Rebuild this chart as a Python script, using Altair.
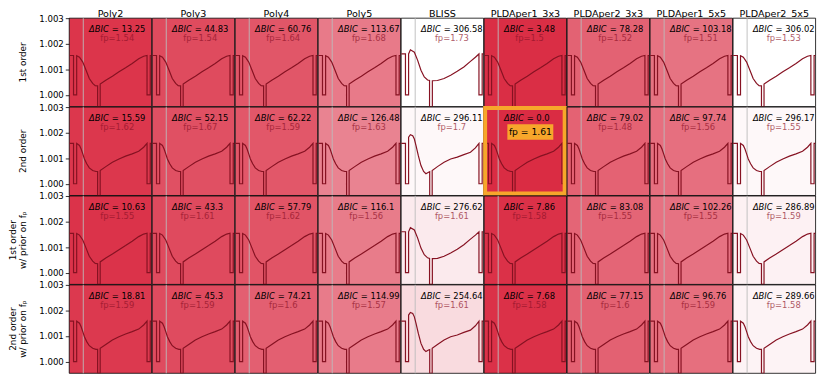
import altair as alt
import pandas as pd

models = ["Poly2", "Poly3", "Poly4", "Poly5", "BLISS",
          "PLDAper1_3x3", "PLDAper2_3x3", "PLDAper1_5x5", "PLDAper2_5x5"]
fits = ["1st order", "2nd order",
        "1st order|w/ prior on fₚ", "2nd order|w/ prior on fₚ"]

dbic_1st = [13.25, 44.83, 60.76, 113.67, 306.58, 3.48, 78.28, 103.18, 306.02]
dbic_2nd = [15.59, 52.15, 62.22, 126.48, 296.11, 0.0, 79.02, 97.74, 296.17]
dbic_1st_prior = [10.63, 43.3, 57.79, 116.1, 276.62, 7.86, 83.08, 102.26, 286.89]
dbic_2nd_prior = [18.81, 45.3, 74.21, 114.99, 254.64, 7.68, 77.15, 96.76, 289.66]

fp_1st = [1.54, 1.54, 1.64, 1.68, 1.73, 1.5, 1.52, 1.51, 1.53]
fp_2nd = [1.62, 1.67, 1.59, 1.63, 1.7, 1.61, 1.48, 1.56, 1.55]
fp_1st_prior = [1.55, 1.61, 1.62, 1.56, 1.61, 1.58, 1.55, 1.55, 1.59]
fp_2nd_prior = [1.59, 1.59, 1.6, 1.57, 1.61, 1.58, 1.6, 1.59, 1.58]

best_fit, best_model = "2nd order", "PLDAper1_3x3"

# phase curve shapes (fraction of panel width, normalised flux)
phase_1st = [0.000, 0.052, 0.052, 0.090, 0.090, 0.124, 0.164, 0.204, 0.243, 0.284, 0.315,
             0.344, 0.344, 0.375, 0.375, 0.443, 0.523, 0.603, 0.683, 0.763, 0.842, 0.902,
             0.943, 0.943, 0.982, 0.982, 1.000]
flux_1st = [1.00154, 1.00154, 1.00000, 1.00000, 1.00153, 1.00147, 1.00128, 1.00096, 1.00064,
            1.00045, 1.00036, 1.00035, 0.99954, 0.99954, 1.00042, 1.00057, 1.00073, 1.00090,
            1.00106, 1.00123, 1.00141, 1.00151, 1.00154, 1.00000, 1.00000, 1.00154, 1.00154]

phase_2nd = [0.000, 0.052, 0.052, 0.090, 0.090, 0.124, 0.144, 0.164, 0.184, 0.212, 0.243,
             0.284, 0.323, 0.344, 0.344, 0.375, 0.375, 0.443, 0.523, 0.603, 0.683, 0.763,
             0.842, 0.902, 0.943, 0.943, 0.982, 0.982, 1.000]
flux_2nd = [1.00158, 1.00158, 1.00000, 1.00000, 1.00158, 1.00150, 1.00136, 1.00117, 1.00097,
            1.00078, 1.00062, 1.00052, 1.00048, 1.00048, 0.99954, 0.99954, 1.00052, 1.00067,
            1.00084, 1.00097, 1.00108, 1.00117, 1.00127, 1.00143, 1.00158, 1.00000, 1.00000,
            1.00158, 1.00158]

phase_bliss_1st = [0.000, 0.052, 0.052, 0.090, 0.090, 0.112, 0.160, 0.200, 0.240, 0.280,
                   0.320, 0.344, 0.344, 0.378, 0.378, 0.440, 0.520, 0.600, 0.680, 0.760,
                   0.840, 0.900, 0.943, 0.943, 0.982, 0.982, 1.000]
flux_bliss_1st = [1.00160, 1.00160, 1.00000, 1.00000, 1.00160, 1.00176, 1.00167, 1.00135,
                  1.00096, 1.00070, 1.00058, 1.00056, 0.99954, 0.99954, 1.00055, 1.00056,
                  1.00064, 1.00077, 1.00092, 1.00109, 1.00131, 1.00147, 1.00160, 1.00000,
                  1.00000, 1.00160, 1.00160]

phase_bliss_2nd = [0.000, 0.052, 0.052, 0.090, 0.090, 0.112, 0.140, 0.160, 0.180, 0.208,
                   0.240, 0.272, 0.300, 0.332, 0.346, 0.346, 0.376, 0.376, 0.440, 0.520,
                   0.600, 0.680, 0.760, 0.840, 0.900, 0.943, 0.943, 0.982, 0.982, 1.000]
flux_bliss_2nd = [1.00158, 1.00158, 1.00000, 1.00000, 1.00182, 1.00192, 1.00188, 1.00175,
                  1.00149, 1.00110, 1.00071, 1.00048, 1.00039, 1.00045, 1.00047, 0.99954,
                  0.99954, 1.00052, 1.00067, 1.00084, 1.00097, 1.00104, 1.00114, 1.00123,
                  1.00140, 1.00158, 1.00000, 1.00000, 1.00158, 1.00158]

ref_phase = 0.17
y_lo, y_hi = 0.99954, 1.003

# ---- build the table ----
W, H = 83.5, 89.5
FS = 8.5
TXT_LEFT = 0.24
DX_EQ = 23
adv = {"=": 0.838, " ": 0.318, ".": 0.318}

dbic_rows = [dbic_1st, dbic_2nd, dbic_1st_prior, dbic_2nd_prior]
fp_rows = [fp_1st, fp_2nd, fp_1st_prior, fp_2nd_prior]
shapes = {
    (0, False): (phase_1st, flux_1st), (1, False): (phase_2nd, flux_2nd),
    (0, True): (phase_bliss_1st, flux_bliss_1st), (1, True): (phase_bliss_2nd, flux_bliss_2nd),
}

recs = []
for r, fit in enumerate(fits):
    for c, model in enumerate(models):
        lab = "= " + str(dbic_rows[r][c])
        w2 = sum(adv.get(ch, 0.636) for ch in lab) * FS
        fpx = (TXT_LEFT * W + (DX_EQ + w2) / 2) / W
        is_best = int(fit == best_fit and model == best_model)
        recs.append(dict(kind="cell", model=model, fit=fit, dbic=dbic_rows[r][c],
                         dbic_label=lab, fp_label="fp=" + str(fp_rows[r][c]), fp_x=fpx,
                         best=is_best, best_label="fp = " + str(fp_rows[r][c]),
                         phase=0.0, flux=1.0, i=0))
        ph, fl = shapes[(r % 2, model == "BLISS")]
        for i, (p, f) in enumerate(zip(ph, fl)):
            recs.append(dict(kind="curve", model=model, fit=fit, phase=p, flux=f, i=i,
                             dbic=0.0, dbic_label="", fp_label="", fp_x=0.0, best=0,
                             best_label=""))
df = pd.DataFrame(recs)

xs = alt.Scale(domain=[0, 1], nice=False, zero=False, padding=0)
ys = alt.Scale(domain=[y_lo, y_hi], nice=False, zero=False, padding=0)
yaxis = alt.Axis(values=[1.000, 1.001, 1.002, 1.003], format=".3f", grid=False,
                 domain=False, tickSize=4, tickColor="black", tickWidth=0.8,
                 labelFontSize=8.7, labelColor="black", labelPadding=2, title=None)

cell = "datum.kind == 'cell'"
cell_norm = "datum.kind == 'cell' && datum.best == 0"
cell_best = "datum.kind == 'cell' && datum.best == 1"

bg = alt.Chart().mark_rect(stroke="black", strokeWidth=0.8, opacity=1).encode(
    x=alt.X("x0:Q", scale=xs, axis=None), x2="x1:Q",
    y=alt.Y("y0:Q", scale=ys, axis=yaxis), y2="y1:Q",
    color=alt.Color("dbic:Q", legend=None,
                    scale=alt.Scale(domain=[0, 306.58], range=["#da2c43", "#ffffff"],
                                    interpolate="rgb", clamp=True)),
).transform_filter(cell).transform_calculate(
    x0="0", x1="1", y0=str(y_lo), y1=str(y_hi))

ref = alt.Chart().mark_rule(color="#bbbbbb", strokeWidth=1, opacity=0.9).encode(
    x=alt.X("rp:Q", scale=xs, axis=None),
    y=alt.Y("y0:Q", scale=ys, axis=yaxis), y2="y1:Q"
).transform_filter(cell).transform_calculate(rp=str(ref_phase), y0=str(y_lo), y1=str(y_hi))

line = alt.Chart().mark_line(color="#861222", strokeWidth=1.2, clip=True).encode(
    x=alt.X("phase:Q", scale=xs, axis=None),
    y=alt.Y("flux:Q", scale=ys, axis=yaxis), order="i:Q"
).transform_filter("datum.kind == 'curve'")

t_dbic = alt.Chart().mark_text(align="left", baseline="middle", fontStyle="italic",
                               fontSize=FS, color="black").encode(
    x=alt.X("tl:Q", scale=xs, axis=None), y=alt.value(11), text=alt.value("ΔBIC")
).transform_filter(cell).transform_calculate(tl=str(TXT_LEFT))

t_val = alt.Chart().mark_text(align="left", baseline="middle", fontSize=FS, color="black",
                              dx=DX_EQ).encode(
    x=alt.X("tl:Q", scale=xs, axis=None), y=alt.value(11), text="dbic_label:N"
).transform_filter(cell).transform_calculate(tl=str(TXT_LEFT))

t_fp = alt.Chart().mark_text(align="center", baseline="middle", fontSize=FS,
                             color="#8e1228", opacity=0.7).encode(
    x=alt.X("fp_x:Q", scale=xs, axis=None), y=alt.value(20.5), text="fp_label:N"
).transform_filter(cell_norm)

frame = alt.Chart().mark_rect(filled=False, stroke="#f7a62b", strokeWidth=4).encode(
    x=alt.value(1), x2=alt.value(W - 2), y=alt.value(1), y2=alt.value(H - 2)
).transform_filter(cell_best)

box = alt.Chart().mark_rect(color="#f7a62b").encode(
    x=alt.value(23.5), x2=alt.value(70), y=alt.value(17.5), y2=alt.value(33)
).transform_filter(cell_best)

t_best = alt.Chart().mark_text(align="center", baseline="middle", fontSize=9.3,
                               color="black").encode(
    x=alt.value(46.8), y=alt.value(25.5), text="best_label:N"
).transform_filter(cell_best)

panel = alt.layer(bg, ref, line, t_dbic, t_val, t_fp, frame, box, t_best).properties(
    width=W, height=H)

chart = panel.facet(
    data=df,
    column=alt.Column("model:N", sort=models,
                      header=alt.Header(title=None, labelFontSize=9.7, labelPadding=-0.5,
                                        labelColor="black")),
    row=alt.Row("fit:N", sort=fits,
                header=alt.Header(title=None, labelExpr="split(datum.value, '|')",
                                  labelFontSize=9, labelAngle=270, labelOrient="left",
                                  labelAlign="center", labelBaseline="bottom",
                                  labelPadding=2, labelLineHeight=10.5, labelColor="black")),
    spacing=0,
    bounds="flush",
).properties(
    padding={"left": 0, "top": -2, "right": 5, "bottom": 5}
).configure(font="DejaVu Sans").configure_view(stroke="transparent")

chart.save("out.html", embed_options={"renderer": "svg", "actions": False})
